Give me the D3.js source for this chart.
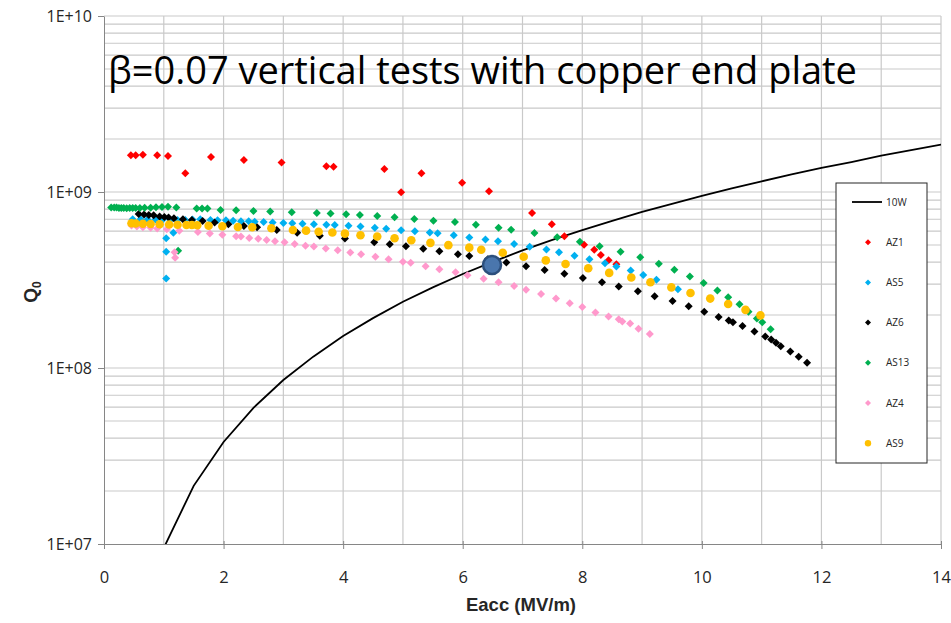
<!DOCTYPE html>
<html>
<head>
<meta charset="utf-8">
<script src="https://cdn.jsdelivr.net/npm/d3@7/dist/d3.min.js"></script>
<style>
  body { margin: 0; background: #fff; }
  text { font-family: "Liberation Sans", Arial, sans-serif; }
</style>
</head>
<body>
<svg id="chart" width="951" height="623"></svg>
<script>
// axis ticks
const xTicks = [0, 2, 4, 6, 8, 10, 12, 14];
const yTicks = [1e7, 1e8, 1e9, 1e10];
const yTickLabels = ["1E+07", "1E+08", "1E+09", "1E+10"];

// 10 W power line: Q0 vs Eacc
const line10wE = [1, 1.5, 2, 2.5, 3, 3.5, 4, 4.5, 5, 5.5, 6, 6.5, 7, 7.5, 8, 8.5, 9, 9.5, 10, 10.5, 11, 11.5, 12, 12.5, 13, 13.5, 14];
const line10wQ = [9.5e6, 2.14e7, 3.8e7, 5.94e7, 8.55e7, 1.16e8, 1.52e8, 1.92e8, 2.38e8, 2.87e8, 3.42e8, 4.01e8, 4.66e8, 5.34e8, 6.08e8, 6.86e8, 7.7e8, 8.57e8, 9.5e8, 1.05e9, 1.15e9, 1.26e9, 1.37e9, 1.48e9, 1.61e9, 1.73e9, 1.86e9];

// measured cavities [Eacc, Q0]
const az1 = [[0.45,1.62e9],[0.53,1.62e9],[0.65,1.63e9],[0.89,1.62e9],[1.07,1.60e9],[1.36,1.28e9],[1.79,1.58e9],[2.34,1.52e9],[2.97,1.47e9],[3.72,1.40e9],[3.84,1.39e9],[4.69,1.35e9],[4.97,9.96e8],[5.31,1.28e9],[5.99,1.13e9],[6.44,1.01e9],[7.16,7.6e8],[7.49,6.56e8],[7.70,5.6e8],[8.03,5.01e8],[8.20,4.70e8],[8.31,4.39e8],[8.44,4.09e8],[8.57,3.89e8]];

const as5 = [[0.48,6.99e8],[0.61,6.99e8],[0.73,6.98e8],[0.86,6.98e8],[0.98,6.95e8],[1.11,6.93e8],[1.23,6.93e8],[1.36,6.93e8],[1.48,6.98e8],[1.61,6.99e8],[1.78,6.93e8],[1.90,6.91e8],[2.04,6.91e8],[2.16,6.87e8],[2.29,6.82e8],[2.42,6.82e8],[2.52,6.78e8],[2.67,6.76e8],[2.82,6.71e8],[3.00,6.67e8],[3.15,6.65e8],[3.32,6.60e8],[3.51,6.56e8],[3.72,6.51e8],[3.86,6.49e8],[4.09,6.43e8],[4.29,6.37e8],[4.53,6.26e8],[4.72,6.18e8],[4.97,6.07e8],[5.20,5.99e8],[5.45,5.89e8],[5.58,5.82e8],[5.85,5.68e8],[6.11,5.51e8],[6.38,5.38e8],[6.59,5.25e8],[6.86,5.07e8],[7.12,4.89e8],[7.40,4.71e8],[7.61,4.54e8],[7.87,4.34e8],[8.12,4.15e8],[8.38,3.94e8],[8.57,3.77e8],[8.81,3.58e8],[9.02,3.38e8],[9.24,3.17e8],[9.60,2.80e8],[1.04,5.46e8],[1.04,4.58e8],[1.16,5.87e8],[1.04,3.23e8]];

const az6 = [[0.58,7.50e8],[0.67,7.45e8],[0.75,7.40e8],[0.83,7.37e8],[0.93,7.26e8],[1.01,7.21e8],[1.08,7.17e8],[1.17,7.09e8],[1.32,6.99e8],[1.47,6.93e8],[1.65,6.84e8],[1.85,6.71e8],[2.08,6.56e8],[2.34,6.41e8],[2.56,6.30e8],[2.89,6.08e8],[3.23,5.87e8],[3.61,5.65e8],[4.03,5.45e8],[4.52,5.19e8],[4.78,5.05e8],[5.05,4.92e8],[5.34,4.76e8],[5.61,4.61e8],[5.92,4.43e8],[6.11,4.33e8],[6.42,4.15e8],[6.73,3.98e8],[7.06,3.78e8],[7.37,3.61e8],[7.70,3.43e8],[8.01,3.25e8],[8.33,3.07e8],[8.61,2.90e8],[8.93,2.73e8],[9.21,2.56e8],[9.51,2.40e8],[9.78,2.24e8],[10.04,2.09e8],[10.28,1.95e8],[10.45,1.86e8],[10.52,1.82e8],[10.68,1.73e8],[10.88,1.61e8],[11.06,1.51e8],[11.16,1.45e8],[11.24,1.39e8],[11.32,1.33e8],[11.48,1.24e8],[11.62,1.16e8],[11.76,1.07e8]];

const as13 = [[0.12,8.16e8],[0.17,8.16e8],[0.21,8.16e8],[0.25,8.11e8],[0.29,8.11e8],[0.33,8.11e8],[0.38,8.08e8],[0.43,8.11e8],[0.48,8.11e8],[0.53,8.11e8],[0.60,8.11e8],[0.68,8.14e8],[0.78,8.14e8],[0.87,8.18e8],[0.97,8.22e8],[1.07,8.25e8],[1.21,8.16e8],[1.24,4.64e8],[1.55,8.06e8],[1.64,8.06e8],[1.73,8.06e8],[1.95,7.90e8],[2.21,7.88e8],[2.50,7.80e8],[2.78,7.75e8],[3.14,7.68e8],[3.56,7.60e8],[3.79,7.55e8],[4.05,7.48e8],[4.28,7.40e8],[4.57,7.31e8],[4.86,7.18e8],[5.19,7.03e8],[5.51,6.87e8],[5.87,6.76e8],[6.22,6.52e8],[6.60,6.27e8],[6.81,6.11e8],[7.20,5.85e8],[7.58,5.53e8],[7.96,5.21e8],[8.29,4.92e8],[8.64,4.57e8],[8.97,4.26e8],[9.28,3.91e8],[9.54,3.62e8],[9.80,3.31e8],[10.03,3.04e8],[10.26,2.76e8],[10.44,2.52e8],[10.63,2.30e8],[10.78,2.09e8],[10.92,1.91e8],[11.01,1.82e8],[11.15,1.66e8]];

const az4 = [[0.46,6.46e8],[0.55,6.37e8],[0.65,6.30e8],[0.78,6.27e8],[0.89,6.21e8],[1.05,6.15e8],[1.26,6.03e8],[1.57,5.93e8],[1.77,5.81e8],[1.98,5.72e8],[2.21,5.61e8],[2.29,5.58e8],[2.43,5.48e8],[2.58,5.42e8],[2.72,5.34e8],[2.86,5.25e8],[3.02,5.18e8],[3.19,5.07e8],[3.37,4.95e8],[3.51,4.90e8],[3.71,4.77e8],[3.91,4.66e8],[4.12,4.53e8],[4.30,4.43e8],[4.54,4.29e8],[4.76,4.15e8],[5.00,4.02e8],[5.13,3.96e8],[5.38,3.79e8],[5.61,3.64e8],[5.88,3.50e8],[6.08,3.36e8],[6.35,3.21e8],[6.60,3.07e8],[6.86,2.92e8],[7.06,2.78e8],[7.31,2.63e8],[7.56,2.48e8],[7.79,2.33e8],[8.00,2.22e8],[8.22,2.07e8],[8.44,1.96e8],[8.61,1.89e8],[8.67,1.84e8],[8.80,1.79e8],[8.94,1.67e8],[9.13,1.56e8],[1.18,4.55e8],[1.19,4.23e8]];

const as9 = [[0.46,6.64e8],[0.53,6.62e8],[0.65,6.60e8],[0.78,6.58e8],[0.93,6.56e8],[1.09,6.54e8],[1.23,6.52e8],[1.38,6.49e8],[1.47,6.49e8],[1.56,6.47e8],[1.75,6.43e8],[1.98,6.39e8],[2.24,6.33e8],[2.48,6.30e8],[2.80,6.22e8],[3.16,6.08e8],[3.38,6.03e8],[3.59,5.95e8],[3.82,5.89e8],[4.03,5.80e8],[4.29,5.68e8],[4.57,5.59e8],[4.86,5.46e8],[5.14,5.32e8],[5.46,5.14e8],[5.76,4.99e8],[6.11,4.83e8],[6.31,4.70e8],[6.67,4.52e8],[7.02,4.29e8],[7.39,4.09e8],[7.72,3.90e8],[8.10,3.69e8],[8.45,3.47e8],[8.82,3.27e8],[9.14,3.07e8],[9.49,2.87e8],[9.81,2.67e8],[10.14,2.48e8],[10.44,2.31e8],[10.73,2.14e8],[10.98,1.99e8]];

// highlighted operating point
const markPoint = [6.49, 3.85e8];

const legendLabels = ["10W", "AZ1", "AS5", "AZ6", "AS13", "AZ4", "AS9"];

const series = [
  { name: "AZ1", data: az1, color: "#ff0000", shape: "diamond" },
  { name: "AS5", data: as5, color: "#00b0f0", shape: "diamond" },
  { name: "AZ6", data: az6, color: "#000000", shape: "diamond" },
  { name: "AS13", data: as13, color: "#00b050", shape: "diamond" },
  { name: "AZ4", data: az4, color: "#ff99cc", shape: "diamond" },
  { name: "AS9", data: as9, color: "#ffc000", shape: "circle" }
];

const svg = d3.select("#chart");
const plotL = 104, plotR = 941, plotT = 16, plotB = 544;
const uiFont = "'Open Sans', 'Liberation Sans', sans-serif";

const x = d3.scaleLinear().domain([0, 14]).range([plotL, plotR]);
const y = d3.scaleLog().domain([1e7, 1e10]).range([plotB, plotT]);

// gridlines
const grid = svg.append("g").attr("stroke", "#c9c9c9").attr("stroke-width", 1.2);
d3.range(1, 15).forEach(v => {
  grid.append("line").attr("x1", x(v)).attr("x2", x(v)).attr("y1", plotT).attr("y2", plotB);
});
const minorY = [];
[1e7, 1e8, 1e9].forEach(d => { for (let m = 2; m <= 10; m++) minorY.push(d * m); });
minorY.forEach(v => {
  grid.append("line").attr("x1", plotL).attr("x2", plotR).attr("y1", y(v)).attr("y2", y(v));
});

// axes
const xAxis = d3.axisBottom(x).tickValues(xTicks).tickSizeInner(5).tickSizeOuter(0).tickPadding(22);
const gx = svg.append("g").attr("transform", `translate(0,${plotB})`).call(xAxis);
gx.select(".domain").attr("stroke", "#868686");
gx.selectAll(".tick line").attr("stroke", "#868686").attr("y1", -3);
gx.selectAll(".tick text").attr("font-size", 16.5).attr("fill", "#262626")
  .style("font-family", uiFont);

const yAxis = d3.axisLeft(y).tickValues(yTicks).tickSizeInner(6).tickSizeOuter(0).tickPadding(6)
  .tickFormat((d, i) => yTickLabels[i]);
const gy = svg.append("g").attr("transform", `translate(${plotL},0)`).call(yAxis);
gy.select(".domain").attr("stroke", "#868686");
gy.selectAll(".tick line").attr("stroke", "#868686");
gy.selectAll(".tick text").attr("font-size", 16).attr("fill", "#262626")
  .style("font-family", uiFont);

// axis titles
svg.append("text")
  .attr("x", 521).attr("y", 611)
  .attr("text-anchor", "middle").attr("font-size", 18.5).attr("font-weight", "bold")
  .attr("fill", "#262626")
  .text("Eacc (MV/m)");

const yt = svg.append("text")
  .attr("transform", "translate(37,292) rotate(-90)")
  .attr("text-anchor", "middle").attr("font-size", 19).attr("font-weight", "bold")
  .attr("fill", "#262626");
yt.append("tspan").text("Q");
yt.append("tspan").attr("font-size", 12).attr("dy", 4).text("0");

// clip for the 10W line
svg.append("clipPath").attr("id", "plotclip")
  .append("rect").attr("x", plotL).attr("y", plotT).attr("width", plotR - plotL).attr("height", plotB - plotT);

const line = d3.line().x(d => x(d[0])).y(d => y(d[1]));
svg.append("path")
  .datum(line10wE.map((e, i) => [e, line10wQ[i]]))
  .attr("clip-path", "url(#plotclip)")
  .attr("fill", "none").attr("stroke", "#000").attr("stroke-width", 1.8)
  .attr("d", line);

const diamond = r => `M0,${-r}L${r},0L0,${r}L${-r},0Z`;

series.forEach(s => {
  const g = svg.append("g");
  if (s.shape === "circle") {
    g.selectAll("circle").data(s.data).enter().append("circle")
      .attr("cx", d => x(d[0])).attr("cy", d => y(d[1])).attr("r", 4.3)
      .attr("fill", s.color);
  } else {
    g.selectAll("path").data(s.data).enter().append("path")
      .attr("transform", d => `translate(${x(d[0])},${y(d[1])})`)
      .attr("d", diamond(4))
      .attr("fill", s.color);
  }
});

// operating point
svg.append("circle")
  .attr("cx", x(markPoint[0])).attr("cy", y(markPoint[1])).attr("r", 9)
  .attr("fill", "#4a76ad").attr("stroke", "#2c4f7c").attr("stroke-width", 2.5);

// title
const title = svg.append("text")
  .attr("x", 108).attr("y", 84)
  .attr("font-size", 36).attr("fill", "#000")
  .style("font-family", uiFont)
  .text("\u03b2=0.07 vertical tests with copper end plate");
const tl = title.node().getComputedTextLength();
title.attr("font-size", 36 * 749 / tl);

// legend
const lg = svg.append("g");
lg.append("rect").attr("x", 836).attr("y", 183).attr("width", 91).attr("height", 280)
  .attr("fill", "#fff").attr("stroke", "#262626").attr("stroke-width", 1);
legendLabels.forEach((name, i) => {
  const ly = 202 + i * 40.2;
  if (i === 0) {
    lg.append("line").attr("x1", 852).attr("x2", 882).attr("y1", ly).attr("y2", ly)
      .attr("stroke", "#000").attr("stroke-width", 1.8);
  } else {
    const s = series[i - 1];
    if (s.shape === "circle") {
      lg.append("circle").attr("cx", 868).attr("cy", ly).attr("r", 3.2).attr("fill", s.color);
    } else {
      lg.append("path").attr("transform", `translate(868,${ly})`).attr("d", diamond(3)).attr("fill", s.color);
    }
  }
  lg.append("text").attr("x", 886).attr("y", ly + 3.5).attr("font-size", 10).attr("fill", "#262626")
    .style("font-family", uiFont)
    .text(name);
});
</script>
</body>
</html>
